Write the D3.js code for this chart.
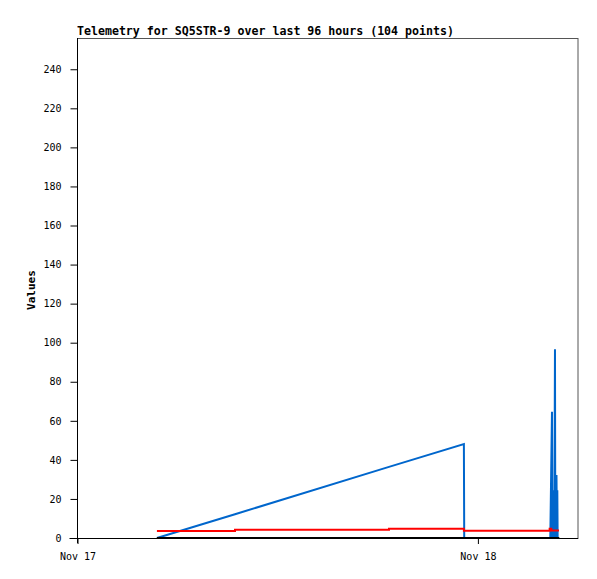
<!DOCTYPE html>
<html>
<head>
<meta charset="utf-8">
<script src="https://cdn.jsdelivr.net/npm/d3@7"></script>
<style>
  body { margin: 0; background: #fff; }
  svg { display: block; }
  text { font-family: "DejaVu Sans Mono", monospace; fill: #000; }
</style>
</head>
<body>
<svg id="chart" width="597" height="579"></svg>
<script>
// hours since Nov 17 00:00
const blueHours = [4.76, 9.44, 18.67, 23.16, 23.18, 28.34, 28.44, 28.46, 28.48, 28.50, 28.52, 28.54, 28.56, 28.58,
  28.62, 28.64, 28.66, 28.68, 28.71, 28.74, 28.76, 28.78];
const blueValues = [0, 12.2, 36.4, 48.1, 0, 0, 64.6, 0, 24.5, 0, 24.5, 0, 24.5, 0,
  96.7, 0, 24.5, 0, 32.2, 0, 24.5, 0];

const redHours = [4.76, 9.44, 18.67, 23.16, 28.3, 28.4, 28.86];
const redValues = [3.6, 4.2, 4.75, 3.7, 4.8, 3.9, 3.9];

const blackHours = [4.76, 28.88];
const blackValues = [0, 0];

const yTicks = [0, 20, 40, 60, 80, 100, 120, 140, 160, 180, 200, 220, 240];
const xTickHours = [0, 24];
const xTickLabels = ["Nov 17", "Nov 18"];

const svg = d3.select("#chart");
const plotLeft = 77.5, plotRight = 578, plotTop = 38, plotBottom = 538;

const x = d3.scaleLinear().domain([0, 30]).range([plotLeft, plotRight]);
const y = d3.scaleLinear().domain([0, 256]).range([plotBottom, plotTop]);

// frame
svg.append("rect")
  .attr("x", plotLeft).attr("y", plotTop + 0.5)
  .attr("width", plotRight - plotLeft).attr("height", plotBottom - plotTop)
  .attr("fill", "none").attr("stroke", "#555").attr("stroke-width", 1);

const zip = (a, b) => a.map((v, i) => [v, b[i]]);
const line = d3.line().x(d => x(d[0])).y(d => y(d[1]));
const stepLine = d3.line().x(d => x(d[0])).y(d => y(d[1])).curve(d3.curveStepAfter);

svg.append("path").datum(zip(blueHours, blueValues))
  .attr("fill", "none").attr("stroke", "#0066cc").attr("stroke-width", 2)
  .attr("d", line);

svg.append("path").datum(zip(redHours, redValues))
  .attr("fill", "none").attr("stroke", "#ff0000").attr("stroke-width", 2)
  .attr("d", stepLine);

svg.append("path").datum(zip(blackHours, blackValues))
  .attr("fill", "none").attr("stroke", "#000").attr("stroke-width", 2)
  .attr("d", line);

// axes
const yAxis = d3.axisLeft(y).tickValues(yTicks).tickSize(7).tickPadding(9);
const gy = svg.append("g").attr("transform", `translate(${plotLeft},0)`).call(yAxis);
gy.select(".domain").remove();
gy.append("line").attr("x1", 0).attr("x2", 0).attr("y1", plotTop).attr("y2", plotBottom + 5).attr("stroke", "#000");
gy.selectAll(".tick line").attr("stroke", "#000");
gy.selectAll("text").attr("font-size", 10).attr("font-family", "DejaVu Sans Mono, monospace");

const xAxis = d3.axisBottom(x).tickValues(xTickHours).tickFormat((d, i) => xTickLabels[i]).tickSize(6).tickPadding(9);
const gx = svg.append("g").attr("transform", `translate(0,${plotBottom})`).call(xAxis);
gx.select(".domain").remove();
gx.append("line").attr("x1", plotLeft - 8).attr("x2", plotRight).attr("y1", 0.5).attr("y2", 0.5).attr("stroke", "#000");
gx.selectAll(".tick line").attr("stroke", "#000");
gx.selectAll("text").attr("font-size", 10).attr("font-family", "DejaVu Sans Mono, monospace");

svg.append("text")
  .attr("x", 77).attr("y", 35)
  .attr("font-size", 11.6).attr("font-weight", "bold")
  .text("Telemetry for SQ5STR-9 over last 96 hours (104 points)");

svg.append("text")
  .attr("transform", "translate(35,290) rotate(-90)")
  .attr("text-anchor", "middle")
  .attr("font-size", 11).attr("font-weight", "bold")
  .text("Values");
</script>
</body>
</html>
